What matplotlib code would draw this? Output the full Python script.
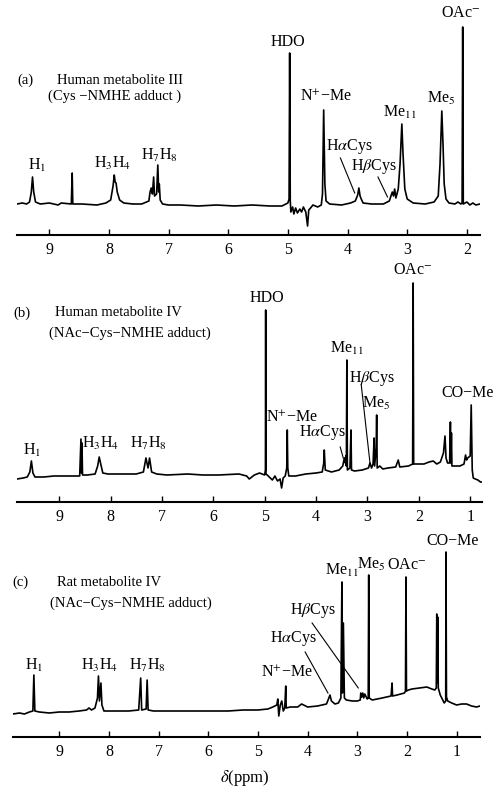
import numpy as np
import matplotlib
matplotlib.use("Agg")
import matplotlib.pyplot as plt

# three 1H NMR spectra, intensities (arbitrary units)
a_spec = [(9.54, 0), (9.45, 1), (9.38, 0), (9.33, 2), (9.30, 12), (9.28, 27), (9.26, 12), (9.23, 2),
          (9.15, 0), (9.0, 1), (8.85, -1), (8.80, 1), (8.63, 0), (8.615, 31), (8.605, 0), (8.45, 0),
          (8.2, -1), (8.05, 1), (7.97, 4), (7.93, 18), (7.91, 29), (7.895, 22), (7.88, 21), (7.86, 12),
          (7.82, 4), (7.75, 1), (7.6, 0), (7.45, 0), (7.33, 3), (7.31, 12), (7.29, 16), (7.27, 10),
          (7.25, 27), (7.235, 8), (7.20, 10), (7.18, 39), (7.165, 12), (7.155, 20), (7.14, 4), (7.10, 0),
          (7.0, -1), (6.8, -1), (6.5, -2), (6.2, -1), (5.9, -2), (5.6, -1), (5.3, -2), (5.1, -2),
          (5.0, 1), (4.98, 5), (4.97, 151), (4.96, 3), (4.95, -8), (4.92, -3), (4.90, -10), (4.87, -4),
          (4.84, -9), (4.80, -5), (4.77, -8), (4.74, -3), (4.70, -8), (4.67, -22), (4.65, -6), (4.62, -4),
          (4.58, -1), (4.50, -3), (4.44, -1), (4.42, 10), (4.40, 94), (4.38, 20), (4.36, 3), (4.3, 0),
          (4.1, -1), (3.95, 1), (3.87, 3), (3.83, 9), (3.81, 16), (3.79, 8), (3.77, 5), (3.74, 1),
          (3.6, 0), (3.4, 0), (3.3, 3), (3.25, 12), (3.23, 8), (3.21, 15), (3.19, 6), (3.15, 15),
          (3.12, 40), (3.09, 80), (3.07, 50), (3.04, 15), (3.0, 5), (2.9, 1), (2.7, 0), (2.55, 2),
          (2.48, 8), (2.45, 40), (2.42, 93), (2.40, 60), (2.38, 20), (2.35, 5), (2.30, 1), (2.2, 0),
          (2.15, 2), (2.10, 0), (2.08, 1), (2.07, 177), (2.06, 0), (2.0, 2), (1.95, -1), (1.9, 1),
          (1.85, -1), (1.78, 0)]

b_spec = [(9.82, -1), (9.70, 0), (9.62, 1), (9.57, 6), (9.54, 17), (9.51, 5), (9.47, 1), (9.3, 1),
          (9.1, 2), (8.9, 2), (8.7, 2), (8.60, 2), (8.575, 39), (8.565, 5), (8.555, 35), (8.545, 3),
          (8.45, 3), (8.30, 4), (8.25, 12), (8.22, 21), (8.19, 14), (8.15, 5), (8.05, 4), (7.8, 4),
          (7.5, 4), (7.36, 6), (7.31, 20), (7.27, 10), (7.24, 20), (7.20, 6), (7.1, 4), (6.9, 3),
          (6.5, 4), (6.2, 3), (5.9, 3), (5.5, 4), (5.35, 2), (5.3, -1), (5.2, 3), (5.1, 5), (5.0, 3),
          (4.985, 8), (4.98, 168), (4.975, 4), (4.95, 3), (4.85, -2), (4.80, 2), (4.75, -3), (4.70, -1),
          (4.67, -10), (4.64, 0), (4.60, 2), (4.57, 10), (4.56, 48), (4.55, 10), (4.53, 2), (4.4, 2),
          (4.2, 4), (4.0, 5), (3.88, 6), (3.85, 15), (3.84, 28), (3.82, 8), (3.7, 6), (3.55, 8),
          (3.48, 12), (3.45, 20), (3.43, 15), (3.42, 22), (3.41, 12), (3.40, 118), (3.39, 8), (3.34, 10),
          (3.32, 48), (3.31, 8), (3.25, 7), (3.10, 8), (2.98, 10), (2.95, 15), (2.92, 10), (2.89, 14),
          (2.87, 40), (2.86, 12), (2.83, 30), (2.82, 63), (2.81, 10), (2.76, 12), (2.70, 9), (2.6, 10),
          (2.45, 11), (2.40, 18), (2.37, 11), (2.2, 12), (2.12, 14), (2.11, 195), (2.10, 14), (2.0, 14),
          (1.9, 14), (1.8, 16), (1.72, 17), (1.65, 14), (1.58, 16), (1.52, 25), (1.49, 42), (1.47, 20),
          (1.44, 15), (1.40, 15), (1.385, 56), (1.375, 15), (1.365, 45), (1.355, 12), (1.30, 12),
          (1.2, 12), (1.12, 14), (1.09, 23), (1.07, 18), (1.05, 20), (1.00, 22), (0.98, 73), (0.96, 8),
          (0.94, 0), (0.90, -1), (0.85, -2), (0.80, -4), (0.77, -4)]

c_spec = [(9.93, -1), (9.8, 0), (9.7, -1), (9.6, 1), (9.53, 2), (9.51, 38), (9.49, 2), (9.4, 1),
          (9.2, 0), (9.0, 1), (8.8, 1), (8.6, 2), (8.45, 3), (8.40, 5), (8.35, 3), (8.28, 5),
          (8.23, 15), (8.21, 37), (8.19, 12), (8.16, 30), (8.14, 8), (8.10, 2), (7.9, 2), (7.6, 2),
          (7.40, 3), (7.36, 35), (7.34, 3), (7.25, 4), (7.23, 33), (7.21, 3), (7.1, 2), (6.8, 2),
          (6.5, 2), (6.2, 2), (5.9, 2), (5.6, 2), (5.3, 3), (5.0, 3), (4.8, 4), (4.7, 6), (4.62, 8),
          (4.60, 14), (4.58, -3), (4.55, 8), (4.52, 12), (4.49, 2), (4.46, 5), (4.44, 27), (4.43, 5),
          (4.35, 6), (4.2, 6), (4.12, 9), (4.08, 8), (4.0, 6), (3.8, 7), (3.62, 9), (3.58, 14),
          (3.55, 18), (3.52, 12), (3.45, 9), (3.38, 10), (3.33, 15), (3.31, 131), (3.30, 20), (3.28, 90),
          (3.26, 15), (3.22, 13), (3.10, 12), (3.0, 12), (2.94, 13), (2.93, 20), (2.91, 16), (2.89, 20),
          (2.87, 15), (2.85, 19), (2.80, 14), (2.78, 15), (2.77, 138), (2.76, 15), (2.70, 13), (2.5, 15),
          (2.32, 17), (2.30, 30), (2.29, 17), (2.2, 18), (2.05, 20), (2.03, 22), (2.02, 136), (2.01, 22),
          (1.97, 23), (1.9, 24), (1.75, 25), (1.6, 26), (1.5, 24), (1.44, 23), (1.41, 25), (1.40, 99),
          (1.39, 30), (1.38, 96), (1.37, 25), (1.33, 18), (1.25, 10), (1.22, 12), (1.215, 161),
          (1.205, 16), (1.18, 12), (1.10, 10), (1.0, 8), (0.9, 9), (0.8, 9), (0.7, 7), (0.6, 6), (0.53, 7)]

a_ticks = [9, 8, 7, 6, 5, 4, 3, 2]
bc_ticks = [9, 8, 7, 6, 5, 4, 3, 2, 1]

a_title = ["Human metabolite III", "(Cys \u2212NMHE adduct )"]
b_title = ["Human metabolite IV", "(NAc\u2212Cys\u2212NMHE adduct)"]
c_title = ["Rat metabolite IV", "(NAc\u2212Cys\u2212NMHE adduct)"]

plt.rcParams['font.family'] = ['Liberation Serif', 'DejaVu Serif']
plt.rcParams['mathtext.fontset'] = 'stix'

W, H = 504, 794
fig = plt.figure(figsize=(W / 100, H / 100), dpi=100)


def panel(spec, ticks, xl, x0, x1, y_ax, y_ref, y_top):
    ax = fig.add_axes([x0 / W, 1 - y_ax / H, (x1 - x0) / W, (y_ax - y_top) / H])
    ax.patch.set_visible(False)
    p = np.array(spec)
    ax.plot(p[:, 0], p[:, 1], color='black', lw=1.2)
    ax.set_xlim(xl)
    ax.set_ylim(-(y_ax - y_ref), y_ref - y_top)
    for s in ['top', 'left', 'right']:
        ax.spines[s].set_visible(False)
    ax.spines['bottom'].set_linewidth(1.5)
    ax.set_yticks([])
    ax.set_xticks(ticks)
    ax.tick_params(axis='x', direction='in', length=4, width=1, labelsize=11.5, pad=5)
    return ax


def lab(ax, x, y, s, size=11.5):
    ax.text(x, y, s, ha='center', va='center', fontsize=size, clip_on=False)


def lead(ax, p, q):
    ax.plot([p[0], q[0]], [p[1], q[1]], color='black', lw=0.8, clip_on=False)


def title(x, y, s, size=10.5, ha='left'):
    fig.text(x / W, 1 - y / H, s, ha=ha, va='center', fontsize=size)


# (a)
ax = panel(a_spec, a_ticks, (9.54, 1.78), 17, 480, 235, 204, 0)
title(25, 80, "(a)", ha='center')
title(57, 80, a_title[0])
title(48, 96, a_title[1])
lab(ax, 9.21, 39, "H$_1$")
lab(ax, 7.93, 41, "H$_3$H$_4$")
lab(ax, 7.16, 49, "H$_7$H$_8$")
lab(ax, 5.0, 162, "HDO")
lab(ax, 4.36, 107, "N$^{+}$\u2212Me")
lab(ax, 3.97, 57, "H$\\alpha$Cys")
lab(ax, 3.56, 37, "H$\\beta$Cys")
lab(ax, 3.12, 92, "Me$_{11}$")
lab(ax, 2.43, 106, "Me$_5$")
lab(ax, 2.10, 191, "OAc$^{-}$")
lead(ax, (4.12, 46), (3.88, 11))
lead(ax, (3.49, 27), (3.33, 7))

# (b)
ax = panel(b_spec, bc_ticks, (9.82, 0.77), 17, 482, 502, 478, 260)
title(22, 313, "(b)", ha='center')
title(55, 313, b_title[0])
title(49, 333, b_title[1])
lab(ax, 4.95, 180, "HDO")
lab(ax, 2.11, 208, "OAc$^{-}$")
lab(ax, 3.40, 130, "Me$_{11}$")
lab(ax, 2.91, 100, "H$\\beta$Cys")
lab(ax, 2.83, 75, "Me$_5$")
lab(ax, 4.47, 60, "N$^{+}$\u2212Me")
lab(ax, 3.88, 45, "H$\\alpha$Cys")
lab(ax, 1.06, 85, "CO\u2212Me")
lab(ax, 9.53, 28, "H$_1$")
lab(ax, 8.20, 35, "H$_3$H$_4$")
lab(ax, 7.27, 35, "H$_7$H$_8$")
lead(ax, (3.12, 93), (2.95, 15))
lead(ax, (3.53, 31), (3.47, 20))

# (c)
ax = panel(c_spec, bc_ticks, (9.93, 0.53), 13, 480, 737, 713, 530)
title(20, 582, "(c)", ha='center')
title(57, 582, c_title[0])
title(50, 603, c_title[1])
lab(ax, 1.09, 172, "CO\u2212Me")
lab(ax, 2.0, 148, "OAc$^{-}$")
lab(ax, 2.72, 149, "Me$_5$")
lab(ax, 3.31, 143, "Me$_{11}$")
lab(ax, 3.89, 103, "H$\\beta$Cys")
lab(ax, 4.29, 75, "H$\\alpha$Cys")
lab(ax, 4.41, 40, "N$^{+}$\u2212Me")
lab(ax, 9.50, 48, "H$_1$")
lab(ax, 8.18, 48, "H$_3$H$_4$")
lab(ax, 7.23, 48, "H$_7$H$_8$")
lead(ax, (3.91, 90), (2.98, 25))
lead(ax, (4.05, 61), (3.59, 20))

title(245, 778, "$\\delta$(ppm)", size=12, ha='center')

fig.savefig("out.png", dpi=100)
